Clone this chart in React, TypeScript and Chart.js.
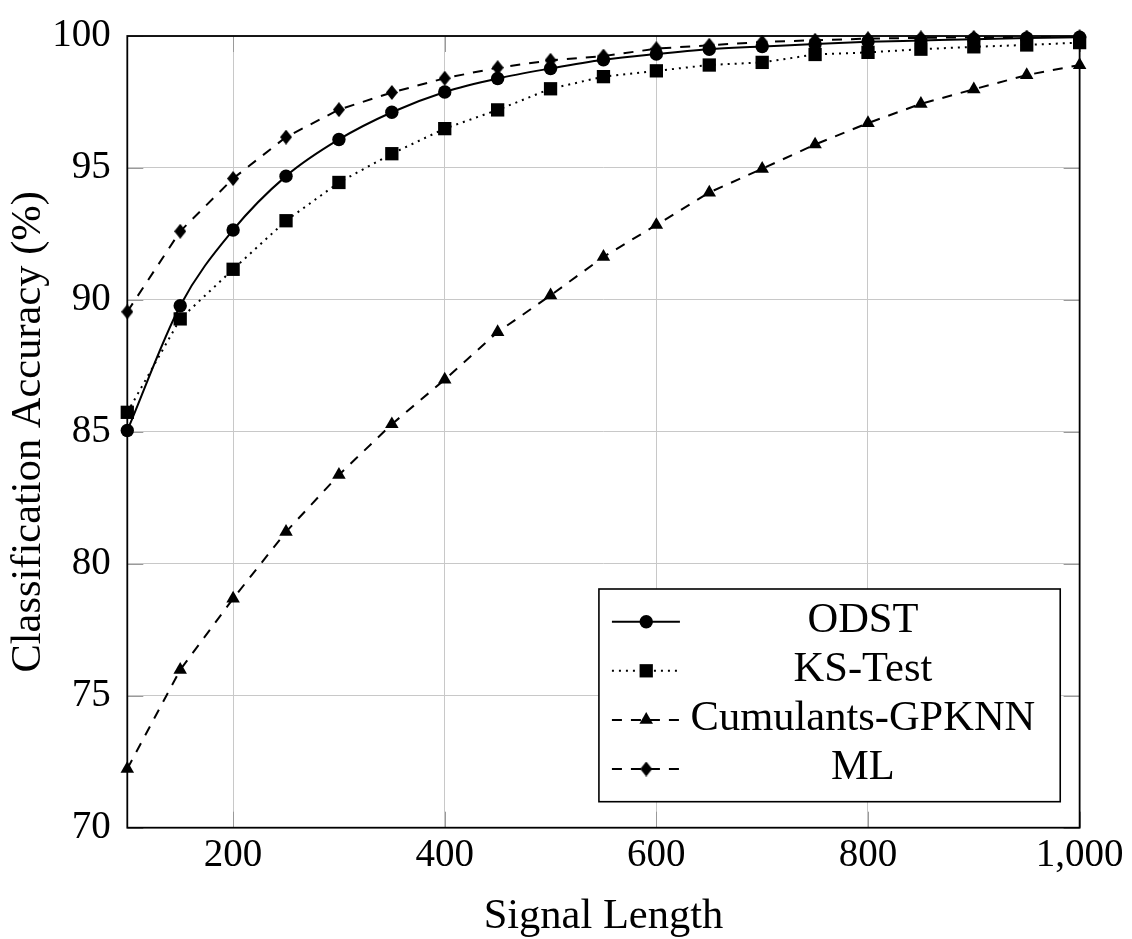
import React, { useEffect, useRef } from 'react';
import { Chart, registerables } from 'chart.js';

Chart.register(...registerables);

// ---- data ----
const signalLengths = [100, 150, 200, 250, 300, 350, 400, 450, 500, 550, 600, 650, 700, 750, 800, 850, 900, 950, 1000];
const odst = [85.05, 89.78, 92.65, 94.69, 96.08, 97.11, 97.88, 98.39, 98.77, 99.1, 99.32, 99.5, 99.6, 99.7, 99.78, 99.83, 99.88, 99.92, 99.95];
const ksTest = [85.74, 89.28, 91.16, 93.0, 94.45, 95.54, 96.49, 97.2, 98.0, 98.46, 98.68, 98.9, 99.0, 99.3, 99.38, 99.5, 99.59, 99.66, 99.75];
const cumulantsGpknn = [72.23, 75.98, 78.68, 81.21, 83.37, 85.29, 86.98, 88.78, 90.17, 91.63, 92.84, 94.07, 94.97, 95.89, 96.7, 97.43, 97.98, 98.52, 98.9];
const mlValues = [89.55, 92.6, 94.6, 96.17, 97.21, 97.86, 98.4, 98.8, 99.08, 99.24, 99.52, 99.65, 99.77, 99.84, 99.9, 99.93, 99.95, 99.96, 99.97];
const seriesLabels = ['ODST', 'KS-Test', 'Cumulants-GPKNN', 'ML'];
const xTickValues = [200, 400, 600, 800, 1000];
const yTickValues = [70, 75, 80, 85, 90, 95, 100];
const xAxisTitle = 'Signal Length';
const yAxisTitle = 'Classification Accuracy (%)';

const FONT = "'Liberation Serif', 'Times New Roman', serif";

function makeDiamond(): HTMLCanvasElement {
  const c = document.createElement('canvas');
  c.width = 12;
  c.height = 15;
  const g = c.getContext('2d')!;
  g.fillStyle = '#000';
  g.beginPath();
  g.moveTo(6, 0);
  g.lineTo(12, 7.5);
  g.lineTo(6, 15);
  g.lineTo(0, 7.5);
  g.closePath();
  g.fill();
  return c;
}

export default function App() {
  const ref = useRef<HTMLCanvasElement>(null);

  useEffect(() => {
    document.body.style.margin = '0';
    const diamond = makeDiamond();

    const markerSpecs = [
      { style: 'circle', r: 6.7, dash: [] as number[] },
      { style: 'rect', r: 9.4, dash: [2, 5] },
      { style: 'triangle', r: 7.8, dash: [10, 9] },
      { style: 'diamond', r: 7, dash: [10, 9] },
    ];

    const drawMarker = (ctx: CanvasRenderingContext2D, kind: string, r: number, x: number, y: number) => {
      ctx.save();
      ctx.fillStyle = '#000';
      ctx.beginPath();
      if (kind === 'circle') {
        ctx.arc(x, y, r, 0, Math.PI * 2);
        ctx.fill();
      } else if (kind === 'rect') {
        const s = Math.SQRT1_2 * r;
        ctx.rect(x - s, y - s, 2 * s, 2 * s);
        ctx.fill();
      } else if (kind === 'triangle') {
        ctx.moveTo(x, y - r);
        ctx.lineTo(x + 0.866 * r, y + 0.5 * r);
        ctx.lineTo(x - 0.866 * r, y + 0.5 * r);
        ctx.closePath();
        ctx.fill();
      } else {
        ctx.drawImage(diamond, x - diamond.width / 2, y - diamond.height / 2);
      }
      ctx.restore();
    };

    const framePlugin = {
      id: 'pgfFrame',
      beforeDatasetsDraw(chart: any) {
        const { ctx, chartArea: a, scales } = chart;
        ctx.save();
        // inner tick marks
        ctx.strokeStyle = '#9a9a9a';
        ctx.lineWidth = 1;
        const tl = 16;
        xTickValues.forEach((v) => {
          const px = Math.round(scales.x.getPixelForValue(v)) + 0.5;
          ctx.beginPath();
          ctx.moveTo(px, a.bottom);
          ctx.lineTo(px, a.bottom - tl);
          ctx.moveTo(px, a.top);
          ctx.lineTo(px, a.top + tl);
          ctx.stroke();
        });
        yTickValues.forEach((v) => {
          const py = Math.round(scales.y.getPixelForValue(v)) + 0.5;
          ctx.beginPath();
          ctx.moveTo(a.left, py);
          ctx.lineTo(a.left + tl, py);
          ctx.moveTo(a.right, py);
          ctx.lineTo(a.right - tl, py);
          ctx.stroke();
        });
        // frame
        ctx.strokeStyle = '#000';
        ctx.lineWidth = 1.8;
        ctx.strokeRect(a.left, a.top, a.right - a.left, a.bottom - a.top);
        ctx.restore();
      },
      afterDatasetsDraw(chart: any) {
        const { ctx, chartArea: a } = chart;
        const right = a.right - 19.4;
        const bottom = a.bottom - 26;
        const w = 461.3;
        const h = 212.7;
        const left = right - w;
        const top = bottom - h;
        ctx.save();
        ctx.fillStyle = '#fff';
        ctx.fillRect(left, top, w, h);
        ctx.strokeStyle = '#000';
        ctx.lineWidth = 1.6;
        ctx.strokeRect(left, top, w, h);
        seriesLabels.forEach((label, i) => {
          const y = top + 32.7 + i * 49.1;
          const spec = markerSpecs[i];
          ctx.save();
          ctx.strokeStyle = '#000';
          ctx.lineWidth = 2;
          ctx.setLineDash(spec.dash);
          ctx.beginPath();
          ctx.moveTo(left + 13, y);
          ctx.lineTo(left + 81, y);
          ctx.stroke();
          ctx.restore();
          drawMarker(ctx, spec.style, spec.r, left + 47.3, y);
          ctx.fillStyle = '#000';
          ctx.font = `42.5px ${FONT}`;
          ctx.textAlign = 'center';
          ctx.textBaseline = 'middle';
          ctx.fillText(label, left + 264, y - 1);
        });
        ctx.restore();
      },
    };

    const series = [odst, ksTest, cumulantsGpknn, mlValues];
    const datasets = series.map((vals, i) => {
      const spec = markerSpecs[i];
      return {
        label: seriesLabels[i],
        data: signalLengths.map((x, j) => ({ x, y: vals[j] })),
        borderColor: '#000',
        backgroundColor: '#000',
        borderWidth: 2,
        borderDash: spec.dash,
        pointStyle: spec.style === 'diamond' ? diamond : spec.style,
        pointRadius: spec.r,
        pointBorderWidth: 0,
        pointBackgroundColor: '#000',
        pointHoverRadius: spec.r,
        tension: i === 0 ? 0.4 : 0,
        cubicInterpolationMode: i === 0 ? 'monotone' : 'default',
        fill: false,
        clip: false,
        order: 4 - i,
      };
    });

    const chart = new Chart(ref.current!, {
      type: 'line',
      data: { datasets } as any,
      plugins: [framePlugin],
      options: {
        animation: false,
        responsive: false,
        maintainAspectRatio: false,
        events: [],
        layout: { padding: { top: 29.3, right: 50.3, left: 0, bottom: 0 } },
        plugins: {
          legend: { display: false },
          tooltip: { enabled: false },
          title: { display: false },
        },
        scales: {
          x: {
            type: 'linear',
            min: 100,
            max: 1000,
            afterBuildTicks: (s: any) => {
              s.ticks = xTickValues.map((v) => ({ value: v }));
            },
            afterFit: (s: any) => {
              s.height = 111.3;
            },
            border: { display: false },
            grid: { color: '#c8c8c8', lineWidth: 1, drawTicks: false },
            ticks: {
              color: '#000',
              padding: 8.5,
              maxRotation: 0,
              autoSkip: false,
              font: { family: FONT, size: 39, lineHeight: 1 },
            },
            title: {
              display: true,
              text: xAxisTitle,
              color: '#000',
              font: { family: FONT, size: 42.5, lineHeight: 1 },
              padding: { top: 0, bottom: 1 },
            },
          },
          y: {
            type: 'linear',
            min: 70,
            max: 100,
            afterBuildTicks: (s: any) => {
              s.ticks = yTickValues.map((v) => ({ value: v }));
            },
            afterFit: (s: any) => {
              s.width = 127.3;
            },
            border: { display: false },
            grid: { color: '#c8c8c8', lineWidth: 1, drawTicks: false },
            ticks: {
              color: '#000',
              padding: 16.5,
              autoSkip: false,
              font: { family: FONT, size: 39, lineHeight: 1 },
            },
            title: {
              display: true,
              text: yAxisTitle,
              color: '#000',
              font: { family: FONT, size: 42.5, lineHeight: 1 },
              padding: { top: 8, bottom: 0 },
            },
          },
        },
      } as any,
    });

    return () => chart.destroy();
  }, []);

  return (
    <div style={{ position: 'absolute', left: 0, top: 0, width: 1132, height: 939, background: '#fff' }}>
      <canvas ref={ref} width={1132} height={939} style={{ display: 'block' }} />
    </div>
  );
}
